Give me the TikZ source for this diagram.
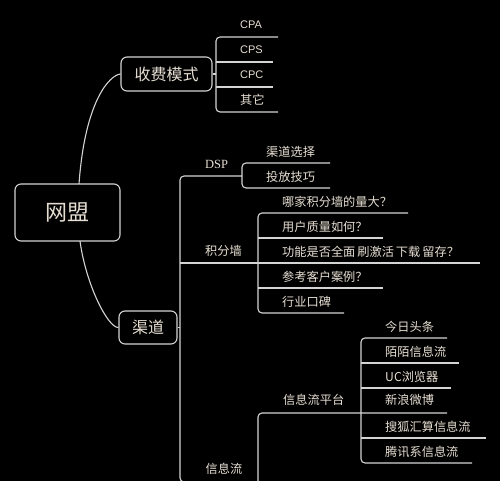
\documentclass[tikz,border=0pt]{standalone}
\usepackage{fontspec}
\setmainfont{Liberation Sans}
\newfontfamily\cjk{Noto Sans CJK SC}
\newfontfamily\serifl{Liberation Serif}
\definecolor{txt}{HTML}{E6DED2}
\definecolor{ln}{HTML}{D4D4D4}
\begin{document}
\begin{tikzpicture}[x=1pt,y=-1pt,
  conn/.style={draw=ln, line width=1.1pt, rounded corners=4pt},
  box/.style={draw=ln, line width=1.1pt, rounded corners=6pt, fill=black, text=txt, inner sep=0pt},
  leaf/.style={text=txt, font=\cjk\fontsize{12.2}{14}\selectfont, inner sep=0pt, anchor=west},
  latin/.style={text=txt, font=\fontsize{11}{13}\selectfont, inner sep=0pt, anchor=west},
  mid/.style={text=txt, font=\cjk\fontsize{12.2}{14}\selectfont, inner sep=0pt}]
\useasboundingbox (0,0) rectangle (500,481);
\fill[black] (0,0) rectangle (500,481);

% main boxes
\node[box, minimum width=105pt, minimum height=57pt, font=\cjk\fontsize{22}{24}\selectfont] (root) at (67.5,212.5) {网盟};
\node[box, minimum width=91pt, minimum height=34pt, font=\cjk\fontsize{16}{18}\selectfont] (fee) at (166.5,74) {收费模式};
\node[box, minimum width=58pt, minimum height=33pt, font=\cjk\fontsize{16}{18}\selectfont] (qd) at (148,327.5) {渠道};

% curves from root
\draw[ln, line width=1.1pt] (79,184) .. controls (85,100) and (110,75) .. (fee.west);
\draw[ln, line width=1.1pt] (80,241) .. controls (86,285) and (108,328) .. (qd.west);

% 收费模式 children
\node[latin] (cpa) at (240,25) {CPA};
\node[latin] (cps) at (240,50) {CPS};
\node[latin] (cpc) at (240,75) {CPC};
\node[leaf] (qt) at (240,100) {其它};
\coordinate (fb) at (216,74);
\draw[conn] (fee.east) -- (fb);
\draw[conn] (278,37) -- (216,37) -- (216,112) -- (278,112);
\draw[conn] (216,62) -- (273,62);
\draw[conn] (216,87) -- (273,87);

% 渠道 children
\node[text=txt, font=\serifl\fontsize{12.5}{14}\selectfont, inner sep=0pt] (dsp) at (216.5,164) {DSP};
\node[mid] (jfq) at (223.5,251) {积分墙};
\node[mid] (xxl) at (224,469) {信息流};
\coordinate (qv) at (180,327.5);
\draw[conn] (qd.east) -- (qv);
\draw[conn] (242,176) -- (180,176) -- (180,482) -- (258,482);
\draw[conn] (180,263) -- (480,263);

% DSP children
\node[leaf] (qdxz) at (266,152) {渠道选择};
\node[leaf] (tfjq) at (266,177) {投放技巧};
\draw[conn] (330,163) -- (242,163) -- (242,188) -- (330,188);

% 积分墙 children
\node[leaf] (j1) at (282,202) {哪家积分墙的量大？};
\node[leaf] (j2) at (282,227) {用户质量如何？};
\node[leaf] (j3) at (282,252) {功能是否全面\hspace{2pt}刷激活\hspace{2pt}下载\hspace{2pt}留存？};
\node[leaf] (j4) at (282,277) {参考客户案例？};
\node[leaf] (j5) at (282,302) {行业口碑};
\draw[conn] (408,213) -- (258,213) -- (258,313) -- (344,313);
\draw[conn] (258,238) -- (383,238);
\draw[conn] (258,288) -- (383,288);

% 信息流 children
\node[leaf] (xxlpt) at (283,400) {信息流平台};
\draw[conn] (447,413) -- (258,413) -- (258,500);

% 信息流平台 children
\node[leaf] (p1) at (385,327) {今日头条};
\node[leaf] (p2) at (385,352) {陌陌信息流};
\node[leaf] (p3) at (385,377) {UC浏览器};
\node[leaf] (p4) at (385,400) {新浪微博};
\node[leaf] (p5) at (385,427) {搜狐汇算信息流};
\node[leaf] (p6) at (385,452) {腾讯系信息流};
\draw[conn] (447,338) -- (361,338) -- (361,463) -- (472,463);
\draw[conn] (361,363) -- (459,363);
\draw[conn] (361,388) -- (451,388);
\draw[conn] (361,438) -- (486,438);
\end{tikzpicture}
\end{document}
